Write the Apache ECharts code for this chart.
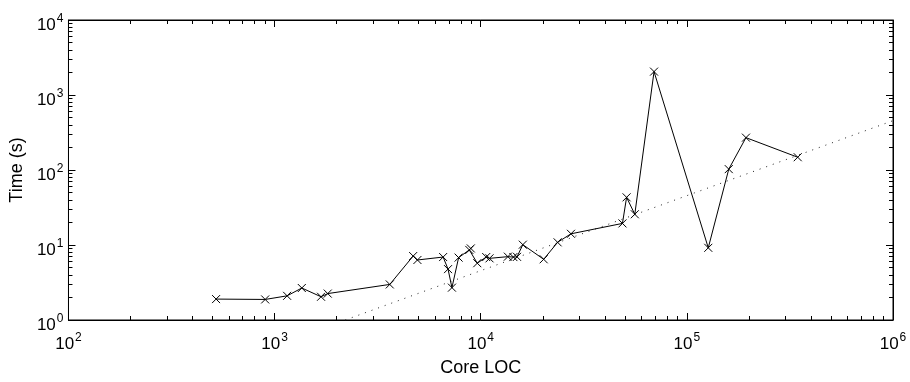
<!DOCTYPE html>
<html>
<head>
<meta charset="utf-8">
<script src="https://cdn.jsdelivr.net/npm/echarts@6/dist/echarts.min.js"></script>
<style>
html,body{margin:0;padding:0;background:#fff;}
#chart{width:910px;height:382px;}
</style>
</head>
<body>
<div id="chart"></div>
<script>
// Data
var coreLoc = [520, 900, 1150, 1355, 1680, 1810, 3620, 4700, 4930, 6570, 6940, 7250, 7810, 8800, 8950, 9620, 10630, 11030, 13540, 14400, 15000, 16000, 20200, 23600, 27400, 48700, 51000, 55900, 69300, 127000, 159700, 193500, 345000];
var timeSec = [1.90, 1.88, 2.10, 2.67, 2.04, 2.25, 2.98, 7.12, 6.31, 6.91, 4.77, 2.70, 6.79, 8.6, 9.0, 5.72, 6.91, 6.64, 6.99, 6.9, 6.95, 10.1, 6.45, 10.85, 14.1, 19.4, 43.2, 25.7, 2050, 9.17, 102.7, 270, 148];
// dotted reference line end points
var fitX = [2200, 1000000];
var fitY = [1, 455];
// ticks
var xMajor = [100, 1000, 10000, 100000, 1000000];
var yMajor = [1, 10, 100, 1000, 10000];
var minorMult = [2, 3, 4, 5, 6, 7, 8, 9];

function minorTicks(major) {
  var out = [];
  for (var i = 0; i < major.length - 1; i++) {
    for (var j = 0; j < minorMult.length; j++) out.push(major[i] * minorMult[j]);
  }
  return out;
}
var xMinor = minorTicks(xMajor);
var yMinor = minorTicks(yMajor);

var FONT = '"Liberation Sans", Arial, Helvetica, sans-serif';
function supFmt(v) {
  return '{b|10}{sup|' + Math.round(Math.log10(v)) + '}';
}
var richLabel = {
  b: { fontSize: 17, fontFamily: FONT, color: '#000' },
  sup: { fontSize: 12, fontFamily: FONT, color: '#000', padding: [0, 0, 13, 1] }
};

function makeAxis(pos, major, minor, isMinor, withLabels, extra) {
  var vals = isMinor ? minor : major;
  var ax = {
    type: 'log',
    logBase: 10,
    position: pos,
    min: major[0],
    max: major[major.length - 1],
    splitLine: { show: false },
    axisLine: { show: !isMinor, lineStyle: { color: '#000', width: 1 } },
    axisTick: {
      show: true,
      inside: true,
      length: isMinor ? 4 : 7,
      customValues: vals,
      lineStyle: { color: '#000', width: 1 }
    },
    axisLabel: withLabels ? {
      show: true,
      customValues: major,
      formatter: supFmt,
      rich: richLabel,
      color: '#000'
    } : { show: false },
    axisPointer: { show: false }
  };
  if (extra) for (var k in extra) ax[k] = extra[k];
  return ax;
}

var lineData = coreLoc.map(function (x, i) { return [x, timeSec[i]]; });
var fitData = fitX.map(function (x, i) { return [x, fitY[i]]; });

var chart = echarts.init(document.getElementById('chart'), null, { renderer: 'canvas' });
var xBottom = makeAxis('bottom', xMajor, xMinor, false, true, {
  name: 'Core LOC',
  nameLocation: 'middle',
  nameGap: 39,
  nameTextStyle: { fontSize: 18, fontFamily: FONT, color: '#000' }
});
xBottom.axisLabel.margin = 12;
var yLeft = makeAxis('left', yMajor, yMinor, false, true, {
  name: 'Time (s)',
  nameLocation: 'middle',
  nameGap: 41,
  nameTextStyle: { fontSize: 18, fontFamily: FONT, color: '#000' }
});
yLeft.axisLabel.margin = 5;
yLeft.axisLabel.padding = [11, 0, 0, 0];

chart.setOption({
  animation: false,
  backgroundColor: '#fff',
  grid: {
    left: 66, right: 17, top: 20, bottom: 55,
    show: true, borderColor: '#000', borderWidth: 1, backgroundColor: 'transparent',
    containLabel: false
  },
  xAxis: [
    xBottom,
    makeAxis('bottom', xMajor, xMinor, true, false),
    makeAxis('top', xMajor, xMinor, false, false),
    makeAxis('top', xMajor, xMinor, true, false)
  ],
  yAxis: [
    yLeft,
    makeAxis('left', yMajor, yMinor, true, false),
    makeAxis('right', yMajor, yMinor, false, false),
    makeAxis('right', yMajor, yMinor, true, false)
  ],
  series: [
    {
      type: 'line',
      xAxisIndex: 0, yAxisIndex: 0,
      data: fitData,
      symbol: 'none',
      clip: true,
      silent: true,
      lineStyle: { color: '#222', width: 1, type: [1, 6] },
      z: 1
    },
    {
      type: 'line',
      xAxisIndex: 0, yAxisIndex: 0,
      data: lineData,
      symbol: 'path://M0,0L10,10M0,10L10,0',
      symbolSize: 8,
      showAllSymbol: true,
      clip: true,
      silent: true,
      itemStyle: { color: 'none', borderColor: '#000', borderWidth: 1 },
      lineStyle: { color: '#000', width: 1 },
      z: 3
    }
  ]
});
</script>
</body>
</html>
